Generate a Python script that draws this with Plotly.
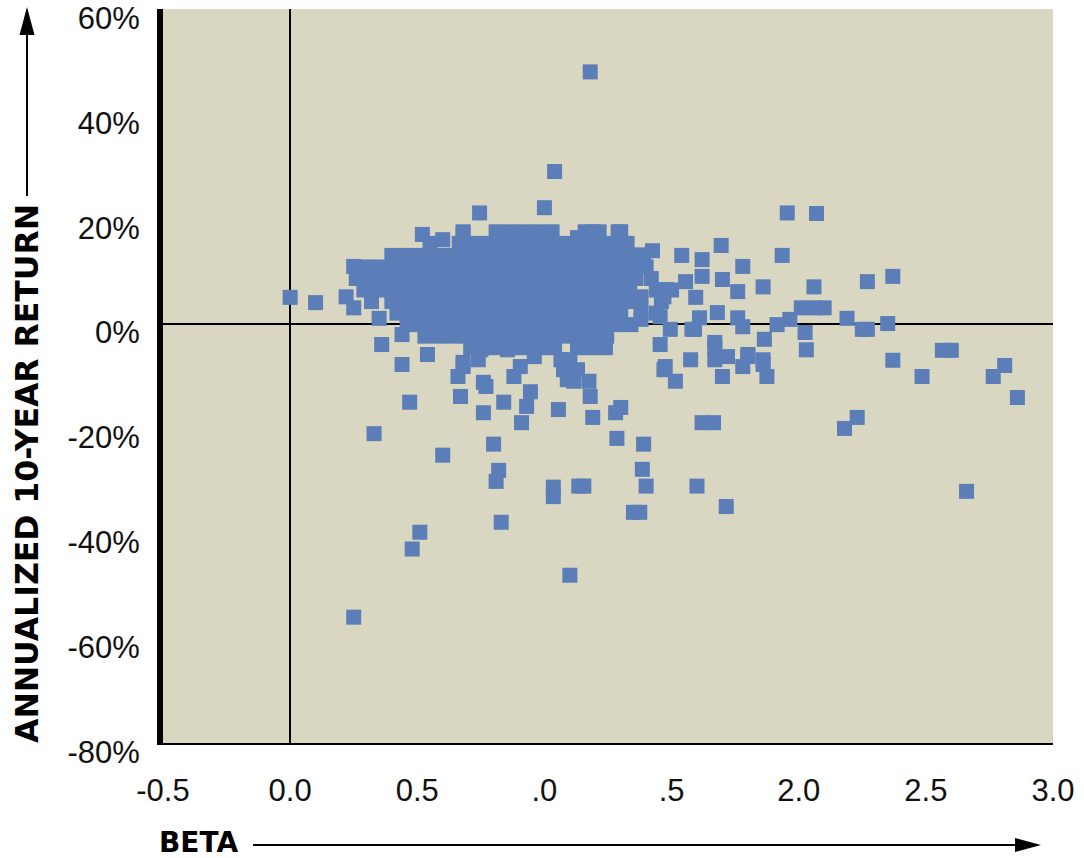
import plotly.graph_objects as go

# ---------------- data ----------------
beta_ticks = [-0.5, 0.0, 0.5, 1.0, 1.5, 2.0, 2.5, 3.0]
beta_tick_text = ["-0.5", "0.0", "0.5", ".0", ".5", "2.0", "2.5", "3.0"]
ret_ticks = [60, 40, 20, 0, -20, -40, -60, -80]
ret_tick_text = ["60%", "40%", "20%", "0%", "-20%", "-40%", "-60%", "-80%"]

# dense core of the cloud, read row by row (return %, betas in that row)
core_row_return = [17.5, 15.3, 13.0, 10.8, 8.6, 6.4, 4.2, 2.0, -0.2, -2.4, -4.6]
core_row_betas = [
    [0.68, 0.81, 0.865, 0.92, 0.975, 1.03, 1.16, 1.215, 1.29],
    [0.55, 0.665, 0.72, 0.775, 0.83, 0.885, 0.94, 0.995, 1.05, 1.105, 1.16, 1.215, 1.27, 1.325],
    [0.40, 0.455, 0.51, 0.565, 0.62, 0.675, 0.73, 0.785, 0.84, 0.895, 0.95, 1.005, 1.06, 1.115,
     1.17, 1.225, 1.28, 1.335, 1.39],
    [0.30, 0.355, 0.41, 0.465, 0.52, 0.575, 0.63, 0.685, 0.74, 0.795, 0.85, 0.905, 0.96, 1.015,
     1.07, 1.125, 1.18, 1.235, 1.29, 1.345, 1.40],
    [0.26, 0.315, 0.37, 0.425, 0.48, 0.535, 0.59, 0.645, 0.70, 0.755, 0.81, 0.865, 0.92, 0.975,
     1.03, 1.085, 1.14, 1.195, 1.25, 1.305, 1.36, 1.42],
    [0.29, 0.345, 0.40, 0.455, 0.51, 0.565, 0.62, 0.675, 0.73, 0.785, 0.84, 0.895, 0.95, 1.005,
     1.06, 1.115, 1.17, 1.225, 1.28, 1.335, 1.44, 1.50],
    [0.32, 0.40, 0.455, 0.51, 0.565, 0.62, 0.675, 0.73, 0.785, 0.84, 0.895, 0.95, 1.005, 1.06,
     1.115, 1.17, 1.225, 1.28, 1.335, 1.46],
    [0.42, 0.475, 0.53, 0.585, 0.64, 0.695, 0.75, 0.805, 0.86, 0.915, 0.97, 1.025, 1.08, 1.135,
     1.19, 1.245, 1.30, 1.44],
    [0.46, 0.515, 0.57, 0.625, 0.68, 0.735, 0.79, 0.845, 0.90, 0.955, 1.01, 1.065, 1.12, 1.175,
     1.23, 1.285, 1.34],
    [0.53, 0.585, 0.64, 0.695, 0.75, 0.805, 0.86, 0.915, 0.97, 1.025, 1.08, 1.135, 1.19, 1.245],
    [0.71, 0.765, 0.82, 0.875, 0.93, 0.985, 1.04, 1.13, 1.185, 1.24],
]

# scattered points around the core
left_beta = [0.00, 0.10, 0.25, 0.34, 0.22, 0.25, 0.35, 0.36, 0.44, 0.745,
             1.00, 0.52, 0.60, 0.68, 0.54, 0.68, 0.44, 0.47, 0.33, 0.60,
             0.51, 0.48, 0.25, 0.67, 0.76, 0.84, 0.80, 0.82, 0.81, 0.83,
             0.91, 1.035, 1.035, 1.10, 1.055, 0.68, 0.66, 0.945, 0.93, 0.77,
             0.76, 0.88, 0.905, 0.96, 0.855, 0.75, 0.74, 1.09, 1.075, 1.065,
             1.10, 1.13, 1.135]
left_return = [5.0, 4.0, 10.9, 9.9, 5.1, 3.0, 1.0, -4.0, -7.8, 21.1,
               22.1, 17.0, 16.0, 17.0, -5.9, -7.4, -2.1, -15.0, -21.0, -25.1,
               -39.8, -43.0, -56.0, -13.9, -17.0, -15.0, -23.0, -28.0, -30.1, -37.9,
               -18.9, -33.0, -31.2, -48.0, -16.4, -8.2, -10.1, -13.0, -15.8, -12.0,
               -11.2, -10.1, -8.2, -6.3, -5.0, -5.0, -6.9, -10.7, -8.8, -6.9,
               -6.9, -8.8, -31.0]

far_beta = [2.86, 2.81, 2.765, 2.66, 2.565, 2.60, 2.485, 2.37, 2.35, 2.27,
            2.25, 2.19, 2.23, 2.18, 2.10, 2.01, 2.025, 2.03, 1.965, 1.915,
            1.865, 1.875, 1.86, 1.80, 1.78, 1.70, 1.67, 1.72, 1.67, 1.575,
            1.59, 1.61, 1.68, 1.76, 1.78, 1.455, 1.47, 1.515, 1.495, 1.38]
far_return = [-14.1, -8.0, -10.1, -32.0, -5.1, -5.1, -10.1, -7.0, 0.0, -1.1,
              -1.1, 1.0, -17.9, -20.0, 3.0, 3.0, -1.7, -5.0, 0.8, -0.2,
              -3.0, -10.1, -6.9, -5.9, -8.2, -10.1, -6.9, -6.3, -3.6, -6.9,
              -1.1, 1.1, 2.1, 1.1, -0.6, -4.0, -8.8, -11.0, -1.1, 0.8]

mid_beta = [1.62, 1.665, 1.39, 1.385, 1.40, 1.35, 1.375, 1.60, 1.715, 1.155,
            1.285, 1.19, 1.30, 1.28, 1.18, 1.115, 1.175, 2.07, 2.06, 2.27,
            2.37, 2.06, 1.18, 1.04, 1.955, 1.695, 1.54, 1.78, 1.935, 1.86,
            1.62, 1.62, 1.70, 1.76, 1.555, 1.595, 1.425, 1.37, 1.30, 1.30,
            1.19, 1.13, 1.58, 1.67, 1.80, 1.86, 1.475, 1.38, 1.47, 1.48,
            1.38, 1.455]
mid_return = [-18.9, -18.9, -23.0, -27.8, -31.0, -36.0, -36.0, -31.0, -34.9, -31.0,
              -21.9, -17.9, -16.0, -17.0, -13.9, -11.0, -11.0, 21.0, 7.0, 8.0,
              9.0, 3.0, 48.0, 29.0, 21.1, 14.9, 13.0, 10.9, 13.0, 7.0,
              12.2, 9.0, 8.4, 6.1, 8.0, 5.0, 13.9, 13.1, 15.0, 17.5,
              17.5, 16.4, -1.1, -4.4, -6.3, -7.8, -8.2, 5.1, 5.1, 6.5,
              2.3, 1.3]

# ---------------- assemble ----------------
xs, ys = [], []
for r, row in zip(core_row_return, core_row_betas):
    xs += row
    ys += [r] * len(row)
xs += left_beta + far_beta + mid_beta
ys += left_return + far_return + mid_return

# ---------------- layout geometry (window pixels) ----------------
W, H = 1084, 858
PLOT_L, PLOT_R, PLOT_T, PLOT_B = 163, 1053, 9, 743
L, T, R, B = PLOT_L, PLOT_T, W - PLOT_R, H - PLOT_B
PW, PH = PLOT_R - PLOT_L, PLOT_B - PLOT_T


def px(x):
    return (x - PLOT_L) / PW


def py(y):
    return (PLOT_B - y) / PH


fig = go.Figure()
fig.add_trace(go.Scatter(
    x=xs, y=ys, mode="markers",
    marker=dict(symbol="square", size=15, color="#5b7db8", line=dict(width=0)),
    hoverinfo="x+y", showlegend=False,
))

tick_font = dict(family="Liberation Sans, Arial, sans-serif", size=31, color="#111111")

fig.update_layout(
    width=W, height=H,
    margin=dict(l=L, r=R, t=T, b=B, pad=0, autoexpand=False),
    paper_bgcolor="white",
    plot_bgcolor="#d9d6c1",
    xaxis=dict(
        range=[-0.5, 3.0], tickvals=beta_ticks, ticktext=beta_tick_text,
        showgrid=False, zeroline=True, zerolinecolor="black", zerolinewidth=2,
        showline=True, linecolor="black", linewidth=2, ticks="",
        tickfont=tick_font, ticklabelstandoff=19, ticklabeloverflow="allow",
        automargin=False,
    ),
    yaxis=dict(
        range=[-80, 60], tickvals=ret_ticks, ticktext=ret_tick_text,
        showgrid=False, zeroline=True, zerolinecolor="black", zerolinewidth=2,
        showline=True, linecolor="black", linewidth=6, ticks="",
        tickfont=tick_font, ticklabelstandoff=11, ticklabelshift=9,
        ticklabeloverflow="allow", automargin=False,
    ),
    annotations=[
        dict(text="<b>ANNUALIZED 10-YEAR RETURN</b>", xref="paper", yref="paper",
             x=px(27), y=py(474), xanchor="center", yanchor="middle",
             textangle=-90, showarrow=False,
             font=dict(family="DejaVu Sans", size=31.5, color="black")),
        dict(text="<b>BETA</b>", xref="paper", yref="paper",
             x=px(157), y=py(842), xanchor="left", yanchor="middle",
             showarrow=False,
             font=dict(family="DejaVu Sans", size=28, color="black")),
    ],
    shapes=[
        dict(type="line", xref="paper", yref="paper",
             x0=px(27), x1=px(27), y0=py(196), y1=py(30),
             line=dict(color="black", width=2)),
        dict(type="path", xref="paper", yref="paper",
             path=f"M {px(27)} {py(7)} L {px(19.5)} {py(35)} L {px(34.5)} {py(35)} Z",
             fillcolor="black", line=dict(color="black", width=0)),
        dict(type="line", xref="paper", yref="paper",
             x0=px(253), x1=px(1020), y0=py(845), y1=py(845),
             line=dict(color="black", width=2)),
        dict(type="path", xref="paper", yref="paper",
             path=f"M {px(1041)} {py(845)} L {px(1015)} {py(838)} L {px(1015)} {py(852)} Z",
             fillcolor="black", line=dict(color="black", width=0)),
    ],
)

# remove the browser's default 8px body margin so the figure fills the window
fig.write_html(
    "out.html",
    config={"displayModeBar": False},
    post_script="document.body.style.margin='0px';document.body.style.overflow='hidden';",
)
